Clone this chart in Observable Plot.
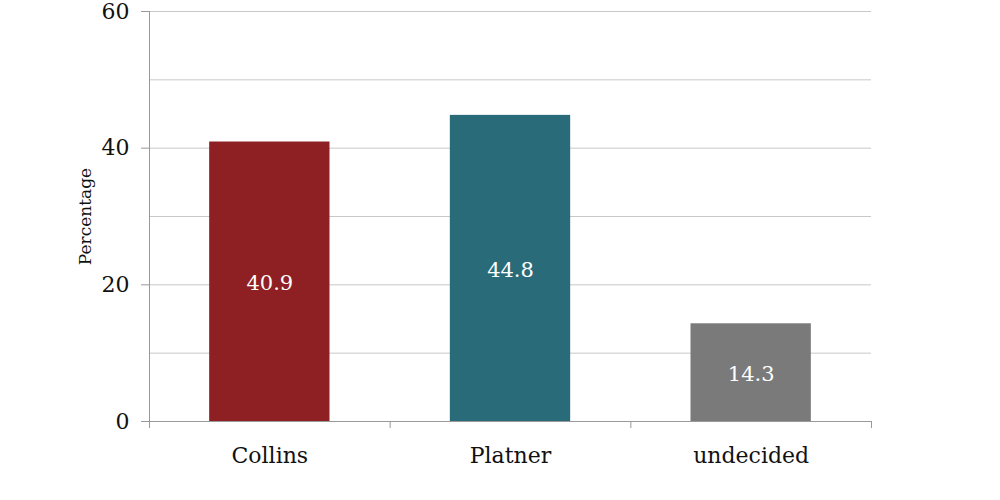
<!DOCTYPE html>
<html>
<head>
<meta charset="utf-8">
<script src="https://cdn.jsdelivr.net/npm/d3@7"></script>
<script src="https://cdn.jsdelivr.net/npm/@observablehq/plot@0.6"></script>
<style>
  html, body { margin: 0; padding: 0; background: #fff; }
  svg { display: block; }
</style>
</head>
<body>
<div id="chart"></div>
<script>
const categories = ["Collins", "Platner", "undecided"];
const values = [40.9, 44.8, 14.3];
const colors = ["#8e2023", "#2a6b7a", "#7a7a7a"];
const yTicks = [0, 20, 40, 60];
const gridValues = [10, 20, 30, 40, 50, 60];
const yLabel = "Percentage";

const data = categories.map((c, i) => ({ category: c, value: values[i], color: colors[i], i }));

const chart = Plot.plot({
  width: 1000,
  height: 500,
  marginLeft: 149,
  marginRight: 129,
  marginTop: 11,
  marginBottom: 79,
  style: { fontFamily: "'DejaVu Serif', serif", background: "#fff", color: "#111" },
  x: { type: "linear", domain: [0, categories.length] },
  y: { domain: [0, 60] },
  marks: [
    Plot.ruleY(gridValues, { stroke: "#c8c8c8", strokeWidth: 1 }),
    Plot.rectY(data, {
      x1: d => d.i + 0.25,
      x2: d => d.i + 0.75,
      y1: 0,
      y2: "value",
      fill: d => d.color
    }),
    Plot.text(data, {
      x: d => d.i + 0.5,
      y: d => d.value / 2,
      text: d => d.value.toFixed(1),
      fill: "#fff",
      fontSize: 21,
      dy: 2
    }),
    Plot.ruleY([0], { stroke: "#999" }),
    Plot.ruleX([0], { y1: 0, y2: 60, stroke: "#999" }),
    Plot.axisY({
      ticks: yTicks,
      tickSize: 8,
      tickPadding: 12,
      fontSize: 22,
      stroke: "#999",
      label: null
    }),
    Plot.text([yLabel], {
      frameAnchor: "left",
      text: d => d,
      rotate: -90,
      textAnchor: "middle",
      dx: -64,
      fontSize: 17,
      fill: "#111"
    }),
    Plot.axisX({
      ticks: d3.range(categories.length + 1),
      tickFormat: () => "",
      tickSize: 7,
      stroke: "#999",
      label: null
    }),
    Plot.axisX({
      ticks: categories.map((c, i) => i + 0.5),
      tickFormat: t => categories[Math.floor(t)],
      tickSize: 0,
      tickPadding: 26,
      fontSize: 22,
      label: null
    })
  ]
});

document.getElementById("chart").appendChild(chart);
</script>
</body>
</html>
